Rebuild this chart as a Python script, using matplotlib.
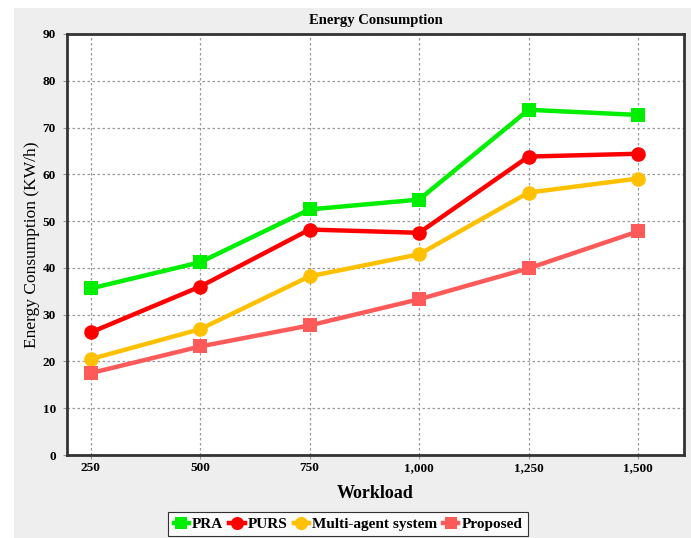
import matplotlib
matplotlib.use("Agg")
import matplotlib.pyplot as plt
from matplotlib.patches import Rectangle
from matplotlib.ticker import FuncFormatter

# values
workload = [250, 500, 750, 1000, 1250, 1500]
pra = [35.6, 41.2, 52.5, 54.6, 73.8, 72.7]
purs = [26.2, 36.0, 48.2, 47.5, 63.8, 64.4]
multi_agent = [20.5, 26.9, 38.2, 42.9, 56.1, 59.1]
proposed = [17.5, 23.2, 27.7, 33.3, 39.9, 47.8]

series = [
    ("PRA", pra, "#00ee00", "s"),
    ("PURS", purs, "#ff0000", "o"),
    ("Multi-agent system", multi_agent, "#ffc000", "o"),
    ("Proposed", proposed, "#ff5a5a", "s"),
]

plt.rcParams['font.family'] = ['Liberation Serif', 'DejaVu Serif']

W, H = 691, 538
fig = plt.figure(figsize=(W / 100, H / 100), dpi=100, facecolor="white")
# grey panel behind the chart (white strip at top/left as in the source)
fig.patches.append(Rectangle((14 / W, 0), 1 - 14 / W, 1 - 8 / H,
                             transform=fig.transFigure, facecolor="#eeeeee",
                             edgecolor="none", zorder=-10))

ax = fig.add_axes([67 / W, 1 - 455 / H, (684 - 67) / W, (455 - 34) / H])
ax.set_facecolor("white")

for name, vals, col, mk in series:
    ax.plot(workload, vals, color=col, lw=3.2, marker=mk,
            markersize=10 if mk == "s" else 10.5, markeredgewidth=0,
            label=name, solid_joinstyle="round")

ax.set_xlim(196, 1605)
ax.set_ylim(0, 90)
ax.set_xticks(workload)
ax.set_yticks(range(0, 91, 10))
ax.xaxis.set_major_formatter(FuncFormatter(lambda v, p: f"{int(v):,}"))
ax.grid(True, color="#999999", ls=(0, (2, 2)), lw=0.9)
ax.set_axisbelow(True)
ax.tick_params(length=3, color="#999999", labelsize=9.5)
ax.tick_params(axis="x", pad=2)
ax.tick_params(axis="y", pad=5)
for lab in ax.get_xticklabels() + ax.get_yticklabels():
    lab.set_fontweight("bold")
for sp in ax.spines.values():
    sp.set_linewidth(2)
    sp.set_color("#333333")

ax.set_title("Energy Consumption", fontsize=10.5, fontweight="bold", pad=7)
ax.set_xlabel("Workload", fontsize=13, fontweight="bold", labelpad=8)
ax.set_ylabel("Energy Consumption (KW/h)", fontsize=12.5, labelpad=2)

leg = fig.legend(loc="upper center", bbox_to_anchor=(348 / W, 1 - 512 / H),
                 ncol=4, fontsize=11, frameon=True, fancybox=False,
                 handlelength=1.0, handletextpad=0.2, columnspacing=0.4,
                 borderpad=0.35, borderaxespad=0, markerscale=0.9)
leg.get_frame().set_edgecolor("black")
leg.get_frame().set_linewidth(0.8)
for t in leg.get_texts():
    t.set_fontweight("bold")

fig.savefig("out.png", dpi=100, facecolor=fig.get_facecolor())
